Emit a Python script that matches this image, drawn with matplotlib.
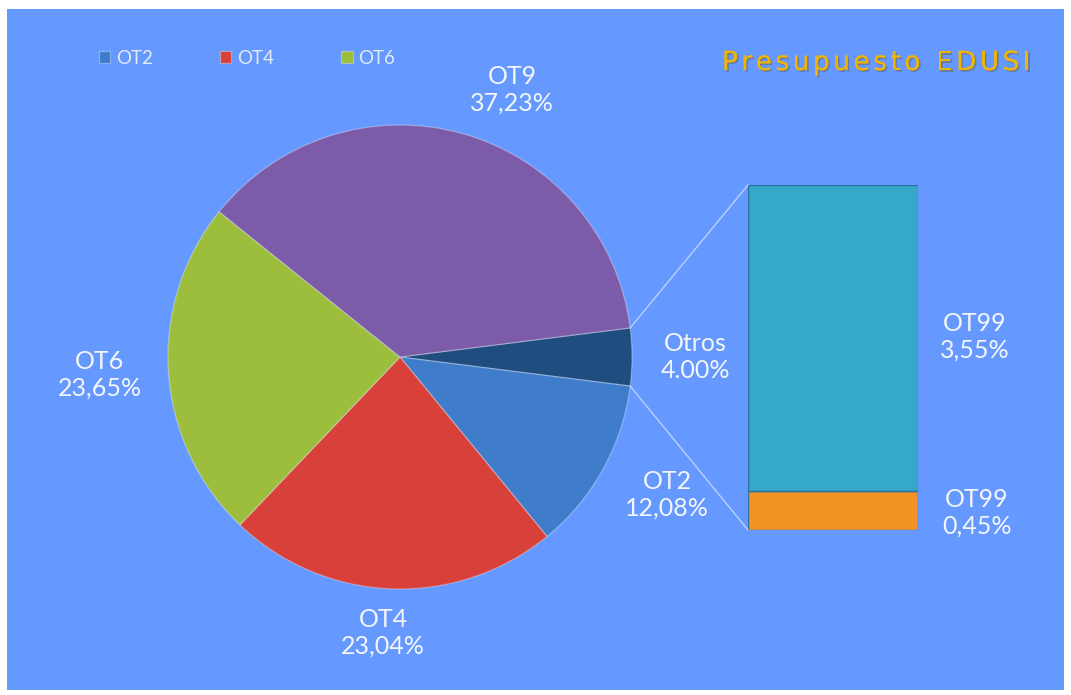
import numpy as np
import matplotlib.pyplot as plt
import matplotlib.patheffects as pe
from matplotlib.patches import Rectangle, ConnectionPatch

# pie values (clockwise from the "Otros" slice on the right)
pie_labels = ['Otros', 'OT2', 'OT4', 'OT6', 'OT9']
pie_values = [4.00, 12.08, 23.04, 23.65, 37.23]
pie_texts = ['4.00%', '12,08%', '23,04%', '23,65%', '37,23%']
pie_colors = ['#1f4d80', '#3f7dcb', '#d8413a', '#9dbe3c', '#7c5ca8']

# breakdown of "Otros"
bar_labels = ['OT99', 'OT99']
bar_values = [0.45, 3.55]
bar_texts = ['0,45%', '3,55%']
bar_colors = ['#f29224', '#36a9c8']

legend_names = ['OT2', 'OT4', 'OT6']
title = 'Presupuesto EDUSI'

plt.rcParams['font.family'] = ['Lato', 'DejaVu Sans']
W, H = 1071, 695
fig = plt.figure(figsize=(W / 100, H / 100), dpi=100)
fig.patch.set_facecolor('white')
fig.patches.append(Rectangle((7 / W, 5 / H), 1057 / W, 681 / H, transform=fig.transFigure,
                             facecolor='#6699ff', edgecolor='none', zorder=-10))

ax = fig.add_axes([0, 0, 1, 1])
ax.patch.set_alpha(0)
cx, cy, r = 400, H - 357, 232
start = 360 * pie_values[0] / 100 / 2
wedges, _ = ax.pie(pie_values, colors=pie_colors, startangle=start, counterclock=False,
                   center=(cx, cy), radius=r,
                   wedgeprops=dict(edgecolor='#ffffff50', linewidth=0.9))
ax.set_xlim(0, W)
ax.set_ylim(0, H)
ax.axis('off')

txt = dict(color='#f4f6fa', fontsize=18, ha='center', va='center', linespacing=1.2)
pie_label_pos = {'Otros': (695, 357), 'OT2': (667, 495), 'OT4': (383, 633),
                 'OT6': (100, 375), 'OT9': (512, 90)}
for name, t in zip(pie_labels, pie_texts):
    x, y = pie_label_pos[name]
    ax.text(x, H - y, f'{name}\n{t}', **txt)

# bar of pie
ax2 = fig.add_axes([748 / W, (H - 530) / H, 170 / W, 345 / H])
bottom = 0
for v, c in zip(bar_values, bar_colors):
    ax2.bar(0, v, width=1, bottom=bottom, color=c, edgecolor='#2a6fa0', linewidth=1)
    bottom += v
ax2.set_xlim(-0.5, 0.5)
ax2.set_ylim(0, sum(bar_values))
ax2.axis('off')

bar_label_pos = [(977, 513), (975, 337)]
for name, t, (x, y) in zip(bar_labels, bar_texts, bar_label_pos):
    ax.text(x, H - y, f'{name}\n{t}', **txt)

# connector lines
for ang, yb in [(start, sum(bar_values)), (-start, 0)]:
    a = np.deg2rad(ang)
    con = ConnectionPatch(xyA=(cx + r * np.cos(a), cy + r * np.sin(a)), coordsA=ax.transData,
                          xyB=(-0.5, yb), coordsB=ax2.transData,
                          color='white', alpha=0.55, linewidth=1)
    fig.add_artist(con)

# legend
leg_wedges = [wedges[pie_labels.index(n)] for n in legend_names]
leg = ax.legend(leg_wedges, legend_names, loc='center left', bbox_to_anchor=(82 / W, 1 - 58 / H),
                ncol=3, frameon=False, fontsize=13.5, handlelength=0.6, handleheight=0.6,
                columnspacing=3.6, handletextpad=0.3, labelcolor='#e2eaf8')

# title, drawn letter by letter to get the wide spacing
renderer = fig.canvas.get_renderer()
tx, ty, spacing = 722, H - 63, 3.5
shadow = [pe.withSimplePatchShadow(offset=(1.2, -1.2), shadow_rgbFace='#6b5a2a', alpha=0.45),
          pe.Normal()]
for ch in title:
    t = ax.text(tx, ty, ch, color='#efb406', fontsize=19, va='center', ha='left',
                family='DejaVu Sans', path_effects=shadow)
    tx += t.get_window_extent(renderer).width + spacing

fig.savefig('out.png', dpi=100, facecolor='white')
